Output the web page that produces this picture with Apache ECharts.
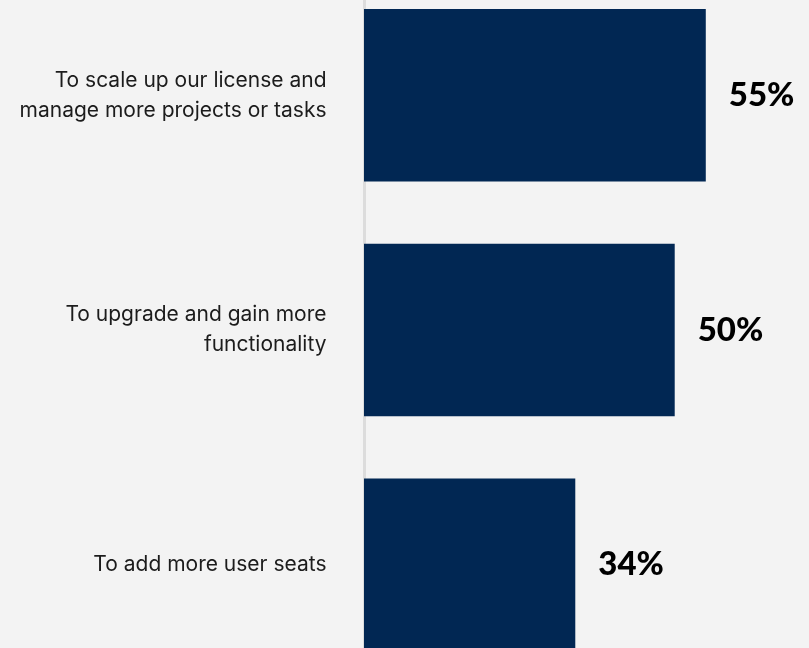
<!DOCTYPE html>
<html>
<head>
<meta charset="utf-8">
<script src="https://cdn.jsdelivr.net/npm/echarts@6/dist/echarts.min.js"></script>
<style>
  html, body { margin: 0; padding: 0; background: #f3f3f3; }
  #chart { width: 809px; height: 648px; }
</style>
</head>
<body>
<div id="chart"></div>
<script>
// Reasons for expanding usage, share of respondents (%)
const categories = [
  'To scale up our license and\nmanage more projects or tasks',
  'To upgrade and gain more\nfunctionality',
  'To add more user seats'
];
const shares = [55, 50, 34];

const chart = echarts.init(document.getElementById('chart'), null, { renderer: 'canvas' });

chart.setOption({
  backgroundColor: '#f3f3f3',
  animation: false,
  grid: {
    left: 364,
    top: -22,
    width: 435,
    height: 704,
    containLabel: false,
    outerBoundsMode: 'none'
  },
  xAxis: {
    type: 'value',
    min: 0,
    max: 70,
    show: false
  },
  yAxis: {
    type: 'category',
    data: categories,
    inverse: true,
    offset: 1.5,
    axisLine: { show: true, lineStyle: { color: '#dcdcdc', width: 3 } },
    axisTick: { show: false },
    axisLabel: {
      margin: 36,
      align: 'right',
      color: '#1c1c1c',
      fontFamily: 'Inter',
      fontSize: 21,
      lineHeight: 30
    }
  },
  series: [{
    type: 'bar',
    data: shares,
    barCategoryGap: '26.5%',
    itemStyle: { color: '#012753' },
    label: {
      show: true,
      position: 'right',
      distance: 23,
      formatter: '{c}%',
      color: '#000000',
      fontFamily: 'Lato',
      fontWeight: 900,
      fontSize: 33
    }
  }]
});
</script>
</body>
</html>
